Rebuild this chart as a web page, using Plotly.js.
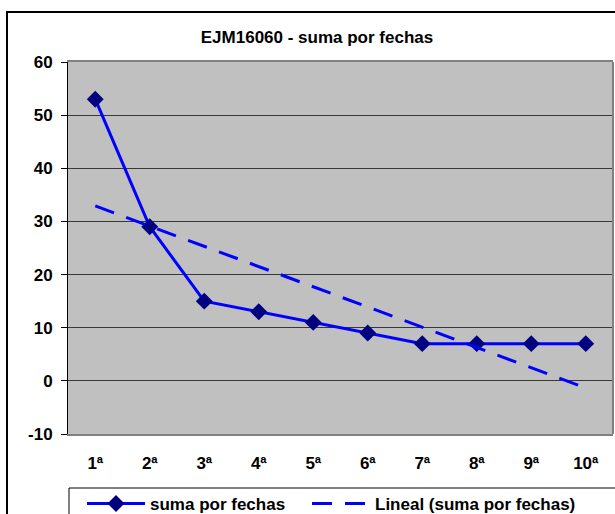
<!DOCTYPE html>
<html>
<head>
<meta charset="utf-8">
<script src="https://cdn.plot.ly/plotly-3.0.1.min.js"></script>
<style>
  html, body { margin: 0; padding: 0; background: #ffffff; }
  #chart { width: 615px; height: 514px; }
</style>
</head>
<body>
<div id="chart"></div>
<script>
// Fechas (categorías del eje X)
const fechas = ['1ª', '2ª', '3ª', '4ª', '5ª', '6ª', '7ª', '8ª', '9ª', '10ª'];
// Suma por fechas
const sumaPorFechas = [53, 29, 15, 13, 11, 9, 7, 7, 7, 7];
// Marcas del eje Y y sus rótulos
const yTicks = [-10, 0, 10, 20, 30, 40, 50, 60];
const yTickText = ['-10', '0', '10', '20', '30', '40', '50', '60'];

const titulo = 'EJM16060 - suma por fechas';
const nombreSerie = 'suma por fechas';
const nombreTendencia = 'Lineal (suma por fechas)';

// Línea de tendencia lineal (mínimos cuadrados sobre la serie)
function tendenciaLineal(ys) {
  const n = ys.length;
  const xs = ys.map((_, i) => i + 1);
  const mx = xs.reduce((a, b) => a + b, 0) / n;
  const my = ys.reduce((a, b) => a + b, 0) / n;
  let sxy = 0, sxx = 0;
  for (let i = 0; i < n; i++) {
    sxy += (xs[i] - mx) * (ys[i] - my);
    sxx += (xs[i] - mx) * (xs[i] - mx);
  }
  const m = sxy / sxx;
  const b = my - m * mx;
  return xs.map(x => m * x + b);
}
const tendencia = tendenciaLineal(sumaPorFechas);

const FONT = 'Liberation Sans, Arial, sans-serif';
const FS = 17;
const AZUL = '#0000ff';
const MARINO = '#000080';
const boldFont = { family: FONT, size: FS, color: '#000000', weight: 700 };

// Plot area in pixels
const L = 68, R = 613, T = 62, B = 434;
const W = 615, H = 514;
const px = x => (x - L) / (R - L);
const py = y => (B - y) / (B - T);

const traces = [
  {
    x: fechas, y: sumaPorFechas, name: nombreSerie,
    type: 'scatter', mode: 'lines+markers',
    line: { color: AZUL, width: 3 },
    marker: { symbol: 'diamond', size: 13, color: MARINO, line: { width: 0 } },
    cliponaxis: false, legend: 'legend'
  },
  {
    x: fechas, y: tendencia, name: nombreTendencia,
    type: 'scatter', mode: 'lines',
    line: { color: AZUL, width: 3, dash: '20px,13px' },
    legend: 'legend2'
  }
];

const legendBase = {
  orientation: 'h', xanchor: 'left', yanchor: 'top',
  bgcolor: 'rgba(0,0,0,0)', borderwidth: 0,
  font: boldFont, itemwidth: 58
};

const layout = {
  width: W, height: H,
  margin: { l: L, r: W - R, t: T, b: H - B, pad: 0, autoexpand: false },
  paper_bgcolor: '#ffffff',
  plot_bgcolor: '#c0c0c0',
  font: boldFont,
  title: {
    text: titulo,
    font: boldFont,
    xref: 'container', yref: 'container',
    x: 317 / W, y: 1 - 37 / H, xanchor: 'center', yanchor: 'middle'
  },
  showlegend: true,
  legend: Object.assign({}, legendBase, { x: px(82), y: py(486) }),
  legend2: Object.assign({}, legendBase, { x: px(307), y: py(486) }),
  xaxis: {
    type: 'category', range: [-0.5, 9.5],
    showgrid: false, zeroline: false,
    showline: true, mirror: true, linecolor: '#808080', linewidth: 2,
    ticks: '', ticklabelstandoff: 13,
    tickfont: boldFont,
    fixedrange: true
  },
  xaxis2: {
    type: 'linear', overlaying: 'x', anchor: 'free', position: 1 / 7,
    range: [-0.5, 9.5], tick0: -0.5, dtick: 0.5,
    ticks: 'outside', ticklen: 4, tickcolor: '#404040', tickwidth: 1,
    showticklabels: false, showgrid: false, zeroline: false,
    showline: true, linecolor: '#404040', linewidth: 1
  },
  yaxis: {
    range: [-10, 60], tickmode: 'array', tickvals: yTicks, ticktext: yTickText,
    showgrid: true, gridcolor: '#383838', gridwidth: 1,
    zeroline: false,
    showline: true, linecolor: '#000000', linewidth: 1,
    ticks: 'outside', ticklen: 6, tickcolor: '#000000',
    ticklabelstandoff: 5,
    tickfont: boldFont,
    fixedrange: true
  },
  shapes: [
    // right edge of the plot area
    { type: 'line', xref: 'paper', yref: 'paper', x0: 1, x1: 1, y0: 0, y1: 1,
      line: { color: '#808080', width: 2 } },
    // chart frame
    { type: 'rect', xref: 'paper', yref: 'paper',
      x0: px(7), x1: px(640), y0: py(540), y1: py(12),
      line: { color: '#000000', width: 2 }, fillcolor: 'rgba(0,0,0,0)' },
    // legend frame
    { type: 'rect', xref: 'paper', yref: 'paper',
      x0: px(69), x1: px(640), y0: py(540), y1: py(488),
      line: { color: '#000000', width: 1 }, fillcolor: 'rgba(0,0,0,0)' }
  ]
};

Plotly.newPlot('chart', traces, layout, { displayModeBar: false, staticPlot: true });
</script>
</body>
</html>
